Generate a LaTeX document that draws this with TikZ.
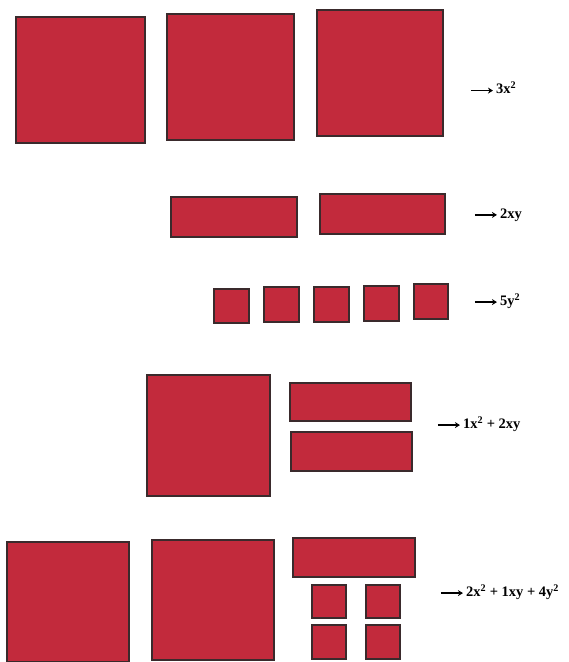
\documentclass[tikz,border=0pt]{standalone}
\usepackage{fontspec}
\setmainfont{Liberation Serif}
\usetikzlibrary{arrows.meta}
\newcommand{\myarr}{\tikz[baseline=-0.5ex]\draw[line width=1.5pt,-{Stealth[length=5pt,width=6pt]}] (0,0)--(22pt,0);}
\begin{document}
\begin{tikzpicture}[x=1pt,y=-1pt,
  tile/.style={fill=tilered,draw=tileedge,line width=2.6pt,line join=miter},
  lbl/.style={anchor=west,inner sep=0pt,font=\fontsize{14.5}{16}\selectfont\bfseries}]
\definecolor{tilered}{HTML}{C22A3C}
\definecolor{tileedge}{HTML}{3A2A2C}
\useasboundingbox (0,0) rectangle (569,662);
% row 1
\draw[tile] (16,17) rectangle (145,143);
\draw[tile] (167,14) rectangle (294,140);
\draw[tile] (317,10) rectangle (443,136);
\node[lbl] (l1) at (470,88) {\myarr\,3x\textsuperscript{2}};
% row 2
\draw[tile] (171,197) rectangle (297,237);
\draw[tile] (320,194) rectangle (445,234);
\node[lbl] (l2) at (474,215) {\myarr\,2xy};
% row 3
\draw[tile] (214,289) rectangle (249,323);
\draw[tile] (264,287) rectangle (299,322);
\draw[tile] (314,287) rectangle (349,322);
\draw[tile] (364,286) rectangle (399,321);
\draw[tile] (414,284) rectangle (448,319);
\node[lbl] (l3) at (474,301) {\myarr\,5y\textsuperscript{2}};
% row 4
\draw[tile] (147,375) rectangle (270,496);
\draw[tile] (290,383) rectangle (411,421);
\draw[tile] (291,432) rectangle (412,471);
\node[lbl] (l4) at (437,424) {\myarr\,1x\textsuperscript{2} + 2xy};
% row 5
\draw[tile] (7,542) rectangle (129,662);
\draw[tile] (152,540) rectangle (274,660);
\draw[tile] (293,538) rectangle (415,577);
\draw[tile] (312,585) rectangle (346,618);
\draw[tile] (366,585) rectangle (400,618);
\draw[tile] (312,625) rectangle (346,659);
\draw[tile] (366,625) rectangle (400,659);
\node[lbl] (l5) at (440,592) {\myarr\,2x\textsuperscript{2} + 1xy + 4y\textsuperscript{2}};
\end{tikzpicture}
\end{document}
